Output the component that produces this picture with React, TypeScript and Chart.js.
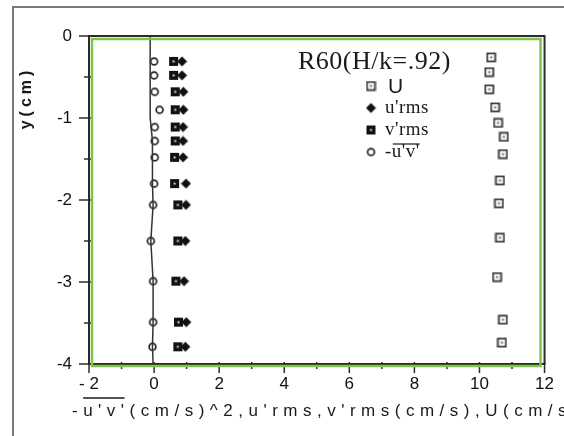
import React, { useEffect, useRef } from 'react';
import { Chart, registerables } from 'chart.js';
Chart.register(...registerables);

// ---- data ----
const yLeft = [-0.31, -0.48, -0.68, -0.9, -1.11, -1.28, -1.48, -1.8, -2.06, -2.5, -2.99, -3.49, -3.79];
const uvValues = [0, 0, 0.02, 0.17, 0.02, 0.02, 0.02, 0, -0.03, -0.1, -0.03, -0.03, -0.05];
const vrmsValues = [0.6, 0.6, 0.65, 0.65, 0.65, 0.65, 0.63, 0.63, 0.73, 0.73, 0.67, 0.75, 0.73];
const urmsValues = [0.86, 0.86, 0.9, 0.9, 0.89, 0.89, 0.89, 0.98, 0.98, 0.96, 0.92, 0.99, 0.96];
const yU = [-0.26, -0.44, -0.65, -0.87, -1.06, -1.23, -1.44, -1.76, -2.04, -2.46, -2.94, -3.46, -3.74];
const uValues = [10.36, 10.3, 10.3, 10.48, 10.57, 10.75, 10.72, 10.63, 10.6, 10.63, 10.54, 10.72, 10.69];
const uvLineX = [-0.12, -0.12, -0.05, -0.05, -0.03, -0.1, -0.03, -0.03, -0.05, -0.03];
const uvLineY = [0, -1.0, -1.28, -1.8, -2.06, -2.5, -2.99, -3.49, -3.79, -4];

const xTickValues = [-2, 0, 2, 4, 6, 8, 10, 12];
const xTickLabels = ['- 2', '0', '2', '4', '6', '8', '10', '12'];
const yTickValues = [0, -1, -2, -3, -4];
const yTickLabels = ['0', '-1', '-2', '-3', '-4'];

const seriesNames = ['U', "u'rms", "v'rms", "-u'v'"];
const chartTitle = 'R60(H/k=.92)';
const xTitle = "-u'v'(cm/s)^2,u'rms,v'rms(cm/s),U(cm/s";
const yTitle = 'y(cm)';

function makeMarker(kind: string): HTMLCanvasElement {
  const c = document.createElement('canvas');
  c.width = 11;
  c.height = 11;
  const g = c.getContext('2d')!;
  if (kind === 'U') {
    g.fillStyle = '#fff';
    g.fillRect(1.5, 1.5, 8, 8);
    g.strokeStyle = '#333';
    g.lineWidth = 1.7;
    g.strokeRect(1.5, 1.5, 8, 8);
    g.fillStyle = '#666';
    g.fillRect(4.5, 4.5, 2, 2);
  } else if (kind === 'v') {
    g.fillStyle = '#111';
    g.fillRect(1, 1, 9, 9);
    g.fillStyle = '#ddd';
    g.fillRect(4.5, 4.5, 2, 2);
  } else if (kind === 'u') {
    g.fillStyle = '#111';
    g.beginPath();
    g.moveTo(5.5, 0.5);
    g.lineTo(10.5, 5.5);
    g.lineTo(5.5, 10.5);
    g.lineTo(0.5, 5.5);
    g.closePath();
    g.fill();
  } else {
    g.fillStyle = '#fff';
    g.strokeStyle = '#222';
    g.lineWidth = 1.7;
    g.beginPath();
    g.arc(5.5, 5.5, 3.4, 0, Math.PI * 2);
    g.fill();
    g.stroke();
  }
  return c;
}

export default function App() {
  const ref = useRef<HTMLCanvasElement>(null);
  useEffect(() => {
    document.body.style.margin = '0';
    const markers = {
      U: makeMarker('U'),
      u: makeMarker('u'),
      v: makeMarker('v'),
      c: makeMarker('c'),
    };
    const deco = {
      id: 'deco',
      afterDraw(chart: any) {
        const ctx = chart.ctx as CanvasRenderingContext2D;
        const a = chart.chartArea;
        const xs = chart.scales.x;
        const ys = chart.scales.y;
        ctx.save();
        // outer gray frame
        ctx.strokeStyle = '#7a7a7a';
        ctx.lineWidth = 2;
        ctx.beginPath();
        ctx.moveTo(13, 436);
        ctx.lineTo(13, 7);
        ctx.lineTo(564, 7);
        ctx.stroke();
        // axes frame
        ctx.strokeStyle = '#2a2a2a';
        ctx.lineWidth = 2;
        ctx.strokeRect(a.left, a.top, a.right - a.left, a.bottom - a.top);
        // tick marks
        ctx.lineWidth = 1.5;
        for (let v = -2; v <= 12; v += 1) {
          const px = xs.getPixelForValue(v);
          const major = v % 2 === 0;
          ctx.beginPath();
          ctx.moveTo(px, a.bottom - 2);
          ctx.lineTo(px, a.bottom + (major ? 9 : 5));
          ctx.stroke();
        }
        for (let v = 0; v >= -4; v -= 0.5) {
          const py = ys.getPixelForValue(v);
          const major = Number.isInteger(v);
          ctx.beginPath();
          ctx.moveTo(a.left + 2, py);
          ctx.lineTo(a.left - (major ? 10 : 5), py);
          ctx.stroke();
        }
        // green rectangle
        ctx.strokeStyle = '#7cc44a';
        ctx.lineWidth = 2.5;
        ctx.strokeRect(a.left + 3, a.top + 3, a.right - a.left - 7, a.bottom - a.top - 1);
        // title
        ctx.fillStyle = '#1a1a1a';
        ctx.textBaseline = 'middle';
        ctx.textAlign = 'left';
        ctx.font = '26px "Liberation Serif", "Times New Roman", serif';
        (ctx as any).letterSpacing = '0.5px';
        ctx.fillText(chartTitle, 298, 62);
        // legend
        const rows = [86, 108, 130, 152];
        const imgs = [markers.U, markers.u, markers.v, markers.c];
        for (let i = 0; i < 4; i++) {
          const img = imgs[i];
          ctx.drawImage(img, 371 - img.width / 2, rows[i] - img.height / 2);
          (ctx as any).letterSpacing = '0.5px';
          if (i === 0) {
            ctx.font = '21px "Liberation Sans", Arial, sans-serif';
            ctx.fillText(seriesNames[i], 388, rows[i] + 1);
          } else {
            ctx.font = '19px "Liberation Serif", "Times New Roman", serif';
            ctx.fillText(seriesNames[i], 385, rows[i]);
            if (i === 3) {
              const w0 = ctx.measureText('-').width;
              const w1 = ctx.measureText(seriesNames[i]).width;
              ctx.lineWidth = 1.2;
              ctx.strokeStyle = '#1a1a1a';
              ctx.beginPath();
              ctx.moveTo(385 + w0 + 1, rows[i] - 8);
              ctx.lineTo(385 + w1, rows[i] - 8);
              ctx.stroke();
            }
          }
        }
        // y title
        ctx.font = 'bold 16px "Liberation Sans", Arial, sans-serif';
        (ctx as any).letterSpacing = '4px';
        ctx.translate(27, 98);
        ctx.rotate(-Math.PI / 2);
        ctx.textAlign = 'center';
        ctx.fillText(yTitle, 0, 0);
        ctx.setTransform(1, 0, 0, 1, 0, 0);
        // x title
        ctx.textAlign = 'left';
        ctx.font = '17px "Liberation Sans", Arial, sans-serif';
        (ctx as any).letterSpacing = '5.5px';
        ctx.fillText(xTitle, 72, 411);
        const wd = ctx.measureText('-').width;
        const wuv = ctx.measureText("-u'v'").width;
        ctx.lineWidth = 1.4;
        ctx.strokeStyle = '#1a1a1a';
        ctx.beginPath();
        ctx.moveTo(72 + wd, 398);
        ctx.lineTo(72 + wuv - 5, 398);
        ctx.stroke();
        ctx.restore();
      },
    };

    const pts = (xs: number[], ys: number[]) => xs.map((x, i) => ({ x, y: ys[i] }));
    const tickFont = { family: '"Liberation Sans", Arial, sans-serif', size: 17 };
    const chart = new Chart(ref.current!, {
      type: 'scatter',
      data: {
        datasets: [
          {
            label: "-u'v' line",
            data: pts(uvLineX, uvLineY),
            showLine: true,
            pointRadius: 0,
            borderColor: '#333',
            borderWidth: 1.5,
          },
          {
            label: seriesNames[0],
            data: pts(uValues, yU),
            pointStyle: markers.U,
            pointRadius: 5,
          },
          {
            label: seriesNames[2],
            data: pts(vrmsValues, yLeft),
            pointStyle: markers.v,
            pointRadius: 5,
          },
          {
            label: seriesNames[1],
            data: pts(urmsValues, yLeft),
            pointStyle: markers.u,
            pointRadius: 5,
          },
          {
            label: seriesNames[3],
            data: pts(uvValues, yLeft),
            pointStyle: markers.c,
            pointRadius: 5,
          },
        ],
      } as any,
      options: {
        animation: false,
        responsive: false,
        devicePixelRatio: 1,
        layout: { padding: { left: 0, top: 36, right: 9, bottom: 0 } },
        plugins: { legend: { display: false }, tooltip: { enabled: false } },
        scales: {
          x: {
            type: 'linear',
            min: -2,
            max: 12,
            grid: { display: false, drawTicks: false },
            border: { display: false },
            afterFit: (s: any) => {
              s.height = 72;
            },
            afterBuildTicks: (s: any) => {
              s.ticks = xTickValues.map((v) => ({ value: v }));
            },
            ticks: {
              autoSkip: false,
              maxRotation: 0,
              padding: 10,
              color: '#111',
              font: tickFont,
              callback: (v: any) => {
                const i = xTickValues.indexOf(Number(v));
                return i >= 0 ? xTickLabels[i] : '';
              },
            },
          },
          y: {
            type: 'linear',
            min: -4,
            max: 0,
            grid: { display: false, drawTicks: false },
            border: { display: false },
            afterFit: (s: any) => {
              s.width = 89;
            },
            afterBuildTicks: (s: any) => {
              s.ticks = yTickValues.map((v) => ({ value: v }));
            },
            ticks: {
              autoSkip: false,
              padding: 17,
              color: '#111',
              font: tickFont,
              callback: (v: any) => {
                const i = yTickValues.indexOf(Number(v));
                return i >= 0 ? yTickLabels[i] : '';
              },
            },
          },
        },
      } as any,
      plugins: [deco],
    });
    return () => chart.destroy();
  }, []);
  return (
    <div style={{ width: 564, height: 436, background: '#fff' }}>
      <canvas ref={ref} width={564} height={436} style={{ display: 'block' }} />
    </div>
  );
}
